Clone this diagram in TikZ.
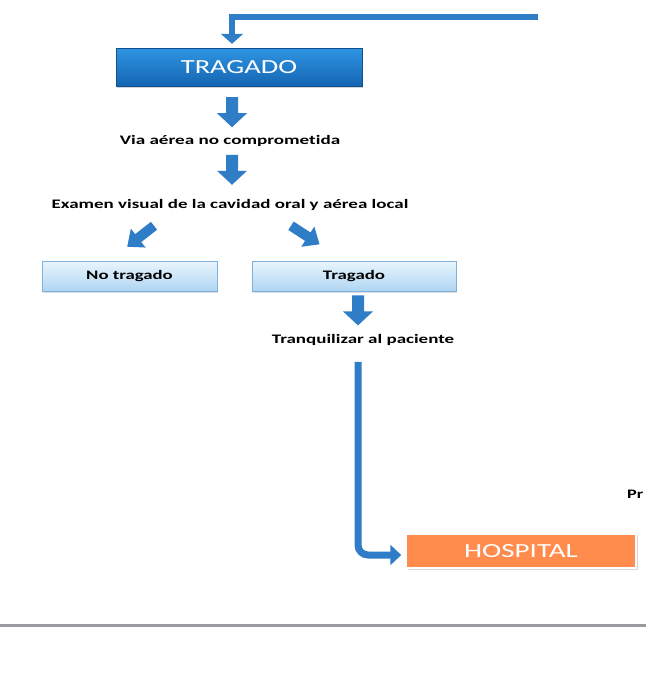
\documentclass[tikz,border=0pt]{standalone}
\usepackage{fontspec}
\usepackage{graphicx}
\setmainfont{Carlito}[Ligatures=NoCommon]
\usetikzlibrary{arrows.meta,shadows,calc}
\definecolor{arrowblue}{HTML}{2E7DC6}
\definecolor{arrowedge}{HTML}{1F63A8}
\definecolor{maintop}{HTML}{2F95E2}
\definecolor{mainbot}{HTML}{1565B3}
\definecolor{lighttop}{HTML}{EAF5FD}
\definecolor{lightbot}{HTML}{AFD6F3}
\definecolor{lightedge}{HTML}{7DB2DE}
\definecolor{hosp}{HTML}{FF8B4C}
\definecolor{rulegray}{HTML}{9A9A9E}
\newcommand{\sx}[2]{\scalebox{#1}[1]{#2}}
\tikzset{
  mainbox/.style={rectangle, top color=maintop, bottom color=mainbot, draw=mainbot!80!black, line width=0.4pt,
    text=white, font=\fontsize{20}{20}\selectfont, inner sep=0pt,
    drop shadow={shadow xshift=1pt, shadow yshift=-2pt, fill=black!35}},
  lightbox/.style={rectangle, top color=lighttop, bottom color=lightbot, draw=lightedge, line width=0.8pt,
    font=\bfseries\fontsize{13}{13}\selectfont, inner sep=0pt,
    drop shadow={shadow xshift=1pt, shadow yshift=-1.5pt, fill=black!25}},
  hospbox/.style={rectangle, fill=hosp, draw=white, line width=1.5pt, text=white,
    font=\fontsize{20}{20}\selectfont, inner sep=0pt,
    drop shadow={shadow xshift=1.5pt, shadow yshift=-2pt, fill=black!30}},
  lbl/.style={font=\bfseries\fontsize{13}{13}\selectfont, inner sep=1pt},
  bentarrow/.style={draw=arrowblue, line width=6pt, -{Triangle[width=22pt,length=10pt]}},
  downblk/.pic={\fill[arrowblue] (-6,0) -- (6,0) -- (6,-16) -- (15,-16) -- (0,-30) -- (-15,-16) -- (-6,-16) -- cycle;},
  diagblk/.pic={\fill[arrowblue] (-5,0) -- (5,0) -- (5,-20) -- (12,-20) -- (0,-34) -- (-12,-20) -- (-5,-20) -- cycle;}
}
\begin{document}
\begin{tikzpicture}[x=1pt,y=1pt]
\useasboundingbox (0,0) rectangle (646,-696);
\fill[white] (0,0) rectangle (646,-696);

% nodes
\node[mainbox, minimum width=246, minimum height=38] (trag) at (239,-67) {\sx{1.42}{TRAGADO}};
\node[lbl] (via) at (230,-141) {\sx{1.47}{Via aérea no comprometida}};
\node[lbl] (exam) at (230,-205) {\sx{1.46}{Examen visual de la cavidad oral y aérea local}};
\node[lightbox, minimum width=175, minimum height=30] (notrag) at (129.5,-276) {\sx{1.44}{No tragado}};
\node[lightbox, minimum width=204, minimum height=30] (tragb) at (354,-276) {\sx{1.45}{Tragado}};
\node[lbl] (tranq) at (363,-340) {\sx{1.46}{Tranquilizar al paciente}};
\node[hospbox, minimum width=230, minimum height=34] (hosp) at (521,-551) {\sx{1.45}{HOSPITAL}};
\node[lbl, anchor=west] (pr) at (626,-494) {\sx{1.4}{Pr}};

% connectors
\coordinate (topstart) at (538,-17);
\draw[bentarrow] (topstart) -| ([xshift=-7pt,yshift=4pt]trag.north);

\pic at ($(trag.south)+(-7,-11)$) {downblk};
\pic at ($(via.south)+(2,-7)$) {downblk};
\pic[rotate=-52] at ($(exam.south)+(-76,-14)$) {diagblk};
\pic[rotate=57] at ($(exam.south)+(61,-14)$) {diagblk};
\pic at ($(tragb.south)+(4,-4)$) {downblk};

\coordinate (longstart) at ($(tranq.south)+(-5,-15)$);
\draw[draw=arrowblue, line width=7pt, rounded corners=10pt, -{Triangle[width=20pt,length=11pt]}]
  (longstart) |- ([xshift=-4pt,yshift=-4pt]hosp.west);

% bottom rule
\draw[rulegray, line width=3pt] (0,-625) -- (646,-625);
\end{tikzpicture}
\end{document}
